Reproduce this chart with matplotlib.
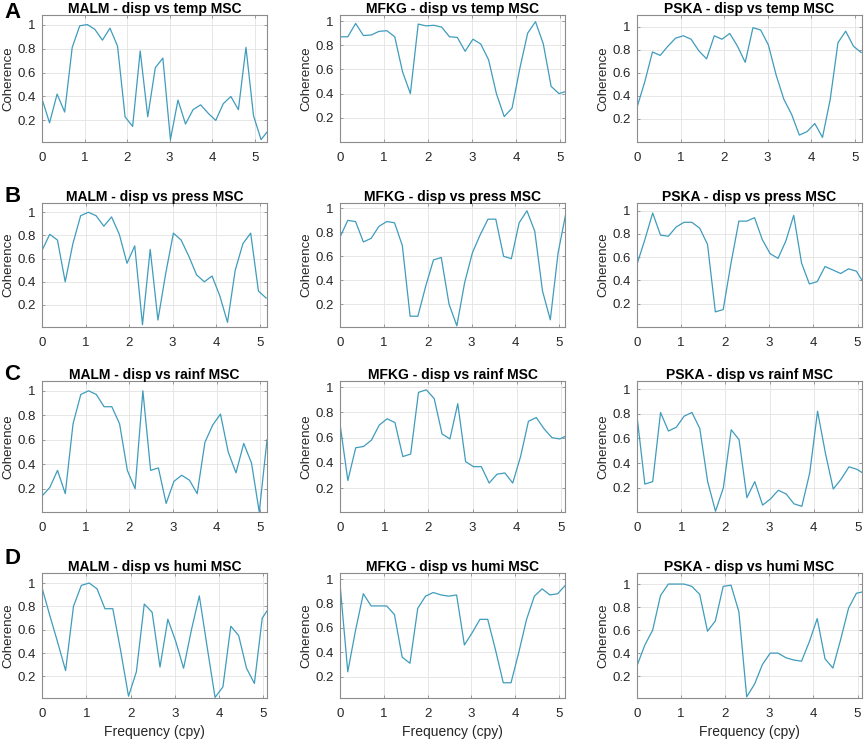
import numpy as np
import matplotlib
matplotlib.use("Agg")
import matplotlib.pyplot as plt

plt.rcParams['font.family'] = ['Liberation Sans', 'DejaVu Sans']

# frequency step (cpy) between coherence estimates
df = 0.1776

stations = ["MALM", "MFKG", "PSKA"]
variables = ["temp", "press", "rainf", "humi"]
row_labels = ["A", "B", "C", "D"]

# coherence values, one list per variable, one entry per station
temp_malm = [0.38, 0.18, 0.42, 0.27, 0.81, 0.99, 1.00, 0.96, 0.87, 0.97, 0.82, 0.23, 0.15, 0.78, 0.23, 0.64,
             0.72, 0.04, 0.37, 0.17, 0.29, 0.33, 0.26, 0.20, 0.34, 0.40, 0.29, 0.81, 0.24, 0.04, 0.12]
temp_mfkg = [0.87, 0.87, 0.98, 0.88, 0.885, 0.915, 0.92, 0.87, 0.58, 0.40, 0.975, 0.96, 0.965, 0.95, 0.87,
             0.865, 0.75, 0.85, 0.81, 0.68, 0.40, 0.21, 0.28, 0.61, 0.90, 0.995, 0.81, 0.46, 0.40, 0.42]
temp_pska = [0.30, 0.52, 0.78, 0.75, 0.83, 0.90, 0.92, 0.89, 0.79, 0.72, 0.92, 0.89, 0.94, 0.83, 0.69, 0.99,
             0.97, 0.84, 0.58, 0.37, 0.24, 0.06, 0.09, 0.16, 0.04, 0.37, 0.86, 0.96, 0.83, 0.775]

press_malm = [0.67, 0.81, 0.76, 0.40, 0.73, 0.97, 1.00, 0.97, 0.88, 0.96, 0.81, 0.56, 0.71, 0.03, 0.68, 0.07,
              0.47, 0.82, 0.76, 0.62, 0.46, 0.40, 0.45, 0.28, 0.05, 0.50, 0.73, 0.82, 0.32, 0.26]
press_mfkg = [0.76, 0.90, 0.89, 0.72, 0.75, 0.85, 0.89, 0.88, 0.69, 0.10, 0.10, 0.35, 0.57, 0.59, 0.20, 0.02,
              0.38, 0.63, 0.78, 0.91, 0.91, 0.60, 0.58, 0.88, 0.98, 0.81, 0.31, 0.07, 0.63, 0.96]
press_pska = [0.54, 0.75, 0.98, 0.79, 0.78, 0.86, 0.90, 0.90, 0.85, 0.71, 0.13, 0.15, 0.55, 0.91, 0.91, 0.94,
              0.75, 0.63, 0.59, 0.74, 0.96, 0.55, 0.37, 0.39, 0.52, 0.49, 0.46, 0.50, 0.48, 0.37]

rainf_malm = [0.14, 0.21, 0.35, 0.16, 0.73, 0.97, 1.00, 0.97, 0.87, 0.87, 0.73, 0.35, 0.20, 1.00, 0.35, 0.37,
              0.08, 0.26, 0.31, 0.27, 0.16, 0.58, 0.72, 0.81, 0.50, 0.33, 0.57, 0.41, 0.01, 0.60]
rainf_mfkg = [0.71, 0.26, 0.52, 0.53, 0.58, 0.70, 0.75, 0.72, 0.45, 0.47, 0.96, 0.98, 0.91, 0.63, 0.59, 0.87,
              0.41, 0.37, 0.37, 0.24, 0.31, 0.32, 0.24, 0.45, 0.73, 0.76, 0.67, 0.60, 0.59, 0.62]
rainf_pska = [0.78, 0.23, 0.25, 0.81, 0.66, 0.69, 0.78, 0.81, 0.68, 0.25, 0.01, 0.20, 0.67, 0.59, 0.12, 0.25,
              0.06, 0.11, 0.18, 0.15, 0.07, 0.05, 0.32, 0.82, 0.48, 0.19, 0.27, 0.37, 0.35, 0.31]

humi_malm = [0.96, 0.72, 0.49, 0.25, 0.80, 0.98, 1.00, 0.95, 0.78, 0.78, 0.42, 0.03, 0.24, 0.82, 0.75, 0.28,
             0.69, 0.50, 0.27, 0.60, 0.89, 0.45, 0.02, 0.11, 0.63, 0.55, 0.27, 0.14, 0.70, 0.80]
humi_mfkg = [0.96, 0.24, 0.58, 0.88, 0.78, 0.78, 0.78, 0.71, 0.36, 0.31, 0.76, 0.86, 0.89, 0.87, 0.86, 0.87,
             0.46, 0.56, 0.67, 0.67, 0.42, 0.15, 0.15, 0.40, 0.67, 0.86, 0.92, 0.87, 0.88, 0.95]
humi_pska = [0.29, 0.47, 0.60, 0.90, 1.00, 1.00, 1.00, 0.98, 0.91, 0.59, 0.68, 0.98, 0.99, 0.76, 0.02, 0.13,
             0.30, 0.40, 0.40, 0.36, 0.34, 0.33, 0.50, 0.70, 0.35, 0.27, 0.52, 0.79, 0.92, 0.935]

coherence = [
  [temp_malm, temp_mfkg, temp_pska],
  [press_malm, press_mfkg, press_pska],
  [rainf_malm, rainf_mfkg, rainf_pska],
  [humi_malm, humi_mfkg, humi_pska],
]

xmax = [
  [5.29, 5.11, 5.17],
  [5.17, 5.13, 5.10],
  [5.15, 5.09, 5.09],
  [5.08, 5.14, 5.10],
]
ylims = [
  [(0.02, 1.08), (0.0, 1.05), (0.0, 1.10)],
  [(0.01, 1.08), (0.01, 1.045), (0.0, 1.066)],
  [(0.01, 1.08), (0.01, 1.05), (0.004, 1.065)],
  [(0.015, 1.086), (0.025, 1.05), (0.01, 1.096)],
]

W, H = 865, 741
fig = plt.figure(figsize=(W / 100, H / 100), dpi=100)

col_x = [(42, 267), (340, 565), (637, 862)]
row_y = [(15, 142), (203, 327), (381, 512), (573, 698)]
label_y = [12, 197, 374, 559]

line_color = "#3f9cbc"
text_color = "#262626"

for r in range(4):
  for c in range(3):
    x0, x1 = col_x[c]
    y0, y1 = row_y[r]
    ax = fig.add_axes([x0 / W, 1 - y1 / H, (x1 - x0) / W, (y1 - y0) / H])
    vals = np.array(coherence[r][c])
    freq = np.arange(len(vals)) * df
    ax.plot(freq, vals, color=line_color, lw=0.9)
    ax.set_xlim(0, xmax[r][c])
    ax.set_ylim(*ylims[r][c])
    ax.set_xticks([0, 1, 2, 3, 4, 5])
    ax.set_yticks([0.2, 0.4, 0.6, 0.8, 1.0])
    ax.set_yticklabels(["0.2", "0.4", "0.6", "0.8", "1"])
    ax.grid(True, color="#e3e3e3", lw=0.6)
    ax.set_axisbelow(True)
    for s in ax.spines.values():
      s.set_color("#8c8c8c")
      s.set_linewidth(0.8)
    ax.tick_params(axis="both", direction="in", length=2.5, width=0.6, color="#8c8c8c",
                   labelsize=9.5, labelcolor=text_color, top=True, right=True)
    ax.tick_params(axis="x", pad=7)
    ax.tick_params(axis="y", pad=4.5)
    ax.set_ylabel("Coherence", fontsize=9.5, color=text_color, labelpad=2)
    if r == 3:
      ax.set_xlabel("Frequency (cpy)", fontsize=10, color=text_color, labelpad=4)
    ax.set_title(f"{stations[c]} - disp vs {variables[r]} MSC", fontsize=10,
                 fontweight="bold", color="black", pad=1.5)
  fig.text(4 / W, 1 - label_y[r] / H, row_labels[r], fontsize=16, fontweight="bold",
           va="center", ha="left", color="black")

fig.savefig("out.png", dpi=100)
